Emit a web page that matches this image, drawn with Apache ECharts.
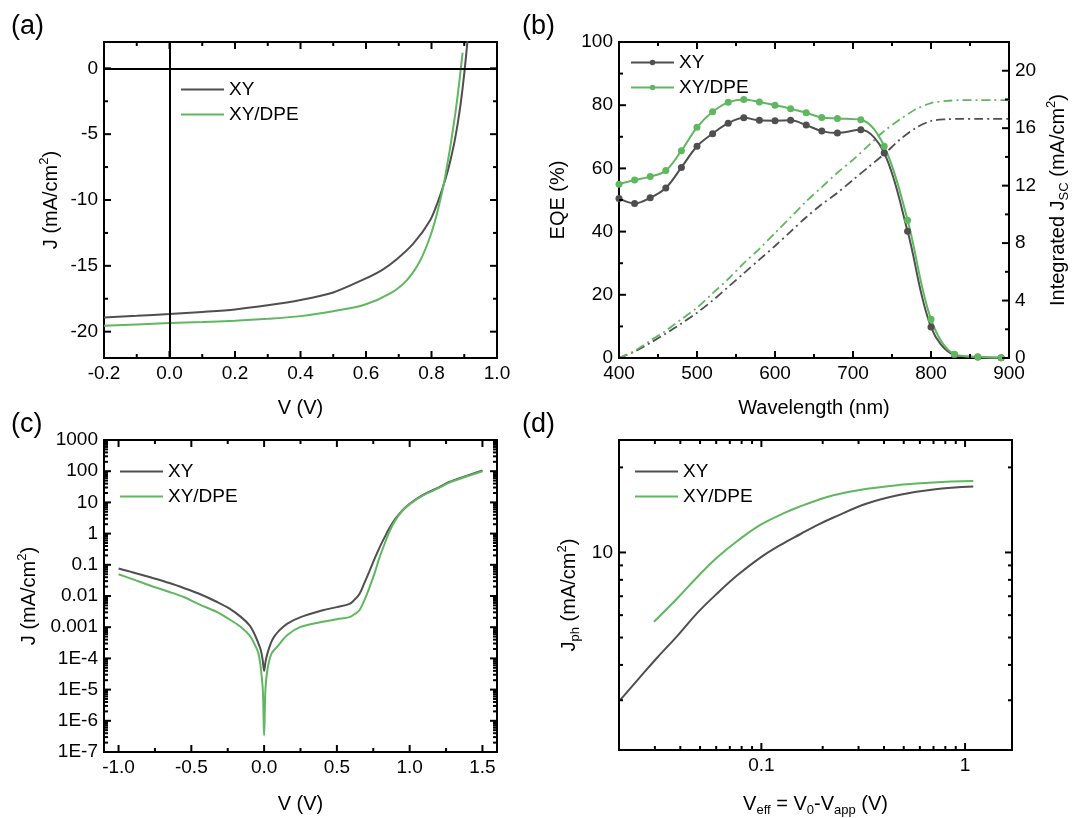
<!DOCTYPE html>
<html><head><meta charset="utf-8">
<script src="https://cdn.jsdelivr.net/npm/echarts@6/dist/echarts.min.js"></script>
<style>html,body{margin:0;padding:0;background:#fff}#c{width:1072px;height:818px}</style>
</head><body><div id="c"></div>
<script>
// ---------- (a) J-V ----------
const jvV_XY = [-0.2,-0.1,0,0.1,0.2,0.3,0.4,0.5,0.593,0.65,0.694,0.745,0.796,0.82,0.837,0.85,0.86,0.87,0.88,0.89,0.9,0.91];
const jvJ_XY = [-18.92,-18.80,-18.66,-18.50,-18.31,-18.00,-17.60,-17.02,-16.03,-15.30,-14.50,-13.30,-11.53,-10.10,-8.85,-7.75,-6.75,-5.60,-4.20,-2.50,-0.40,2.10];
const jvV_DPE = [-0.2,-0.1,0,0.1,0.2,0.3,0.4,0.5,0.593,0.674,0.725,0.766,0.796,0.816,0.837,0.852,0.86,0.872,0.88,0.888,0.895];
const jvJ_DPE = [-19.55,-19.45,-19.35,-19.27,-19.17,-19.02,-18.82,-18.45,-17.98,-17.09,-16.08,-14.57,-12.77,-11.10,-8.85,-6.75,-5.55,-3.55,-2.05,-0.35,1.20];
const aXMajor = [-0.2,0,0.2,0.4,0.6,0.8,1.0];
const aXMinor = [-0.1,0.1,0.3,0.5,0.7,0.9];
const aYMajor = [-20,-15,-10,-5,0];
const aYMinor = [-17.5,-12.5,-7.5,-2.5];

// ---------- (b) EQE ----------
const wl = [400,420,440,460,480,500,520,540,560,580,600,620,640,660,680,710,740,770,800,830,860,890];
const eqeXY  = [50.5,48.9,50.7,53.8,60.3,67.0,71.0,74.3,76.0,75.2,75.1,75.2,73.7,71.8,71.2,72.2,64.9,40.1,9.8,1.0,0.3,0.1];
const eqeDPE = [55.0,56.3,57.4,59.3,65.6,73.0,77.9,80.9,81.8,81.0,80.0,78.9,77.6,76.1,75.8,75.4,67.0,43.6,12.3,1.2,0.3,0.1];
const wlInt = [400,420,440,460,480,500,520,540,560,580,600,620,640,660,680,700,720,740,760,780,800,820,840,860,880,900];
const intXY  = [0,0.45,1.05,1.7,2.4,3.15,4.0,4.95,5.9,6.85,7.8,8.8,9.8,10.7,11.5,12.4,13.3,14.2,15.2,16.0,16.5,16.62,16.65,16.65,16.65,16.65];
const intDPE = [0,0.5,1.2,1.9,2.7,3.5,4.5,5.5,6.6,7.6,8.7,9.8,10.9,11.9,12.9,13.8,14.8,15.8,16.6,17.3,17.75,17.9,17.95,17.95,17.95,17.95];
const bXMajor = [400,500,600,700,800,900];
const bXMinor = [450,550,650,750,850];
const bYMajor = [0,20,40,60,80,100];
const bYMinor = [10,30,50,70,90];
const bY2Major = [0,4,8,12,16,20];
const bY2Minor = [2,6,10,14,18];

// ---------- (c) dark J-V (log) ----------
const dV_XY = [-1.0,-0.9,-0.776,-0.65,-0.548,-0.45,-0.319,-0.24,-0.16,-0.1,-0.068,-0.04,-0.023,-0.01,0,0.01,0.023,0.045,0.068,0.1,0.16,0.251,0.404,0.5,0.587,0.62,0.655,0.69,0.724,0.76,0.792,0.83,0.861,0.9,0.952,1.0,1.089,1.2,1.272,1.4,1.5];
const dJ_XY = [0.076,0.057,0.039,0.026,0.0178,0.012,0.0063,0.0040,0.00214,0.00115,6.3e-4,3.1e-4,1.86e-4,9e-5,4e-5,8e-5,1.45e-4,3e-4,4.9e-4,7.5e-4,0.0013,0.0021,0.0035,0.0044,0.0056,0.0075,0.0116,0.027,0.063,0.16,0.35,0.8,1.5,2.9,5.6,9,17,30,45,73,105];
const dV_DPE = [-1.0,-0.9,-0.776,-0.65,-0.548,-0.45,-0.319,-0.24,-0.16,-0.1,-0.068,-0.04,-0.027,-0.009,0,0.009,0.023,0.05,0.091,0.16,0.251,0.404,0.5,0.587,0.62,0.655,0.69,0.724,0.76,0.792,0.83,0.861,0.9,0.952,1.0,1.089,1.2,1.272,1.4,1.5];
const dJ_DPE = [0.050,0.034,0.021,0.0135,0.0091,0.0055,0.0030,0.0018,0.00102,5.5e-4,3.0e-4,1.5e-4,7e-5,1e-5,3.4e-7,1e-5,4.4e-5,1.4e-4,2.4e-4,5.6e-4,0.00102,0.0015,0.0018,0.0021,0.0026,0.0035,0.0075,0.019,0.055,0.166,0.5,1.17,2.6,5.6,8.8,16.5,29,43,70,100];
const cXMajor = [-1.0,-0.5,0,0.5,1.0,1.5];
const cXMinor = [-0.75,-0.25,0.25,0.75,1.25];
const cYTicks = [1e-7,1e-6,1e-5,1e-4,1e-3,1e-2,1e-1,1,10,100,1000];
const cYTickText = ['1E-7','1E-6','1E-5','1E-4','0.001','0.01','0.1','1','10','100','1000'];
const cYMinor = [];
for (let e = -7; e < 3; e++) for (let m = 2; m <= 9; m++) cYMinor.push(m * Math.pow(10, e));

// ---------- (d) Jph vs Veff ----------
const vEff_XY = [0.0203,0.0247,0.0303,0.0387,0.0485,0.0608,0.0762,0.0993,0.129,0.155,0.188,0.226,0.330,0.480,0.700,1.097];
const jph_XY  = [3.01,3.54,4.19,5.07,6.11,7.17,8.30,9.61,10.8,11.6,12.5,13.3,14.9,16.0,16.7,17.1];
const vEff_DPE = [0.0297,0.0387,0.0485,0.0608,0.0762,0.0993,0.129,0.155,0.188,0.226,0.330,0.480,0.700,1.097];
const jph_DPE  = [5.69,6.89,8.19,9.61,10.98,12.54,13.77,14.55,15.3,15.95,16.8,17.35,17.7,17.9];
const dXMajor = [0.1,1];
const dXTickText = ['0.1','1'];
const dXMinor = [0.03,0.04,0.05,0.06,0.07,0.08,0.09,0.2,0.3,0.4,0.5,0.6,0.7,0.8,0.9];
const dYMajor = [10];
const dYTickText = ['10'];
const dYMinor = [3,4,5,6,7,8,9,20];

// ---------- style ----------
const FONT = "'Liberation Sans', Arial, Helvetica, sans-serif";
const DARK = '#4f4f4f';
const GREEN = '#5fb760';
const MAJ = 7, MIN = 4, TW = 2;
const zip = (a, b) => a.map((v, i) => [v, b[i]]);
const logLookup = (vals, texts) => v => {
  for (let i = 0; i < vals.length; i++) if (Math.abs(Math.log10(v) - Math.log10(vals[i])) < 0.01) return texts[i];
  return '';
};
const nameStyle = {
  fontSize: 20, fontFamily: FONT, color: '#000', lineHeight: 26,
  rich: {
    sup: { fontSize: 13, fontFamily: FONT, color: '#000', verticalAlign: 'top', lineHeight: 14 },
    sub: { fontSize: 13, fontFamily: FONT, color: '#000', verticalAlign: 'bottom', lineHeight: 14 }
  }
};

const xAxes = [], yAxes = [];
function addAxis(list, grid, position, cfg) {
  const ax = {
    type: cfg.type || 'value', gridIndex: grid, position: position,
    min: cfg.min, max: cfg.max, splitLine: { show: false },
    minorTick: { show: false }, minorSplitLine: { show: false },
    axisLine: { show: false, onZero: false },
    axisTick: { show: false },
    axisLabel: { show: true, customValues: cfg.major, formatter: cfg.fmt,
      fontSize: 19, color: '#000', fontFamily: FONT, margin: 6 },
    name: cfg.name, nameLocation: 'middle', nameGap: cfg.nameGap, nameTextStyle: nameStyle
  };
  if (cfg.type === 'log') ax.logBase = 10;
  list.push(ax);
  return list.length - 1;
}

const AX = addAxis(xAxes, 0, 'bottom', { min: -0.2, max: 1.0, major: aXMajor, fmt: v => v.toFixed(1), name: 'V (V)', nameGap: 37 });
const AY = addAxis(yAxes, 0, 'left', { min: -22, max: 2, major: aYMajor, fmt: v => String(v), name: 'J (mA/cm{sup|2})', nameGap: 40 });
const BX = addAxis(xAxes, 1, 'bottom', { min: 400, max: 900, major: bXMajor, fmt: v => String(v), name: 'Wavelength (nm)', nameGap: 37 });
const BY = addAxis(yAxes, 1, 'left', { min: 0, max: 100, major: bYMajor, fmt: v => String(v), name: 'EQE (%)', nameGap: 48 });
const BY2 = addAxis(yAxes, 1, 'right', { min: 0, max: 22, major: bY2Major, fmt: v => String(v), name: 'Integrated J{sub|SC} (mA/cm{sup|2})', nameGap: 36 });
const CX = addAxis(xAxes, 2, 'bottom', { min: -1.1, max: 1.6, major: cXMajor, fmt: v => v.toFixed(1), name: 'V (V)', nameGap: 39 });
const CY = addAxis(yAxes, 2, 'left', { type: 'log', min: 1e-7, max: 1000, major: cYTicks, fmt: logLookup(cYTicks, cYTickText), name: 'J (mA/cm{sup|2})', nameGap: 62 });
const DX = addAxis(xAxes, 3, 'bottom', { type: 'log', min: 0.02, max: 1.7, major: dXMajor, fmt: logLookup(dXMajor, dXTickText), name: 'V{sub|eff} = V{sub|0}-V{sub|app} (V)', nameGap: 41 });
const DY = addAxis(yAxes, 3, 'left', { type: 'log', min: 2, max: 25, major: dYMajor, fmt: logLookup(dYMajor, dYTickText), name: 'J{sub|ph} (mA/cm{sup|2})', nameGap: 37 });

function line(name, color, xi, yi, data, extra) {
  return Object.assign({
    type: 'line', name: name, xAxisIndex: xi, yAxisIndex: yi, data: data,
    symbol: 'none', showSymbol: false, smooth: 0.3, clip: true,
    lineStyle: { color: color, width: 2 }, itemStyle: { color: color }, z: 3
  }, extra || {});
}

const series = [
  line('XY#a', DARK, AX, AY, zip(jvV_XY, jvJ_XY), {
    markLine: { silent: true, symbol: ['none', 'none'], label: { show: false }, animation: false,
      lineStyle: { color: '#000', width: 2, type: 'solid' }, emphasis: { disabled: true },
      data: [{ yAxis: 0 }, { xAxis: 0 }] }
  }),
  line('XY/DPE#a', GREEN, AX, AY, zip(jvV_DPE, jvJ_DPE)),
  line('XYint', DARK, BX, BY2, zip(wlInt, intXY), { lineStyle: { color: DARK, width: 1.8, type: [9, 4, 2, 4] } }),
  line('DPEint', GREEN, BX, BY2, zip(wlInt, intDPE), { lineStyle: { color: GREEN, width: 1.8, type: [9, 4, 2, 4] } }),
  line('XY#b', DARK, BX, BY, zip(wl, eqeXY), { symbol: 'circle', showSymbol: true, symbolSize: 7, smooth: 0.35 }),
  line('XY/DPE#b', GREEN, BX, BY, zip(wl, eqeDPE), { symbol: 'circle', showSymbol: true, symbolSize: 7, smooth: 0.35 }),
  line('XY#c', DARK, CX, CY, zip(dV_XY, dJ_XY), { smooth: 0.35 }),
  line('XY/DPE#c', GREEN, CX, CY, zip(dV_DPE, dJ_DPE), { smooth: 0.35 }),
  line('XY#d', DARK, DX, DY, zip(vEff_XY, jph_XY), { smooth: 0.4 }),
  line('XY/DPE#d', GREEN, DX, DY, zip(vEff_DPE, jph_DPE), { smooth: 0.4 })
];

function legend(tag, left, top, withMarker) {
  const l = {
    data: ['XY' + tag, 'XY/DPE' + tag], orient: 'vertical', left: left, top: top,
    padding: 0, itemWidth: 43, itemHeight: withMarker ? 7 : 2, itemGap: 6, selectedMode: false,
    formatter: n => n.split('#')[0],
    textStyle: { fontSize: 19, fontFamily: FONT, color: '#000' }
  };
  if (!withMarker) l.icon = 'rect';
  return l;
}

const panelLabel = (t, x, y) => ({
  type: 'text', left: x, top: y, silent: true,
  style: { text: t, fontSize: 27, fontFamily: FONT, fill: '#000' }
});
const labels = [panelLabel('(a)', 11, 13), panelLabel('(b)', 522, 13), panelLabel('(c)', 11, 411), panelLabel('(d)', 522, 411)];

const gridBox = (l, t) => ({ left: l, top: t, width: 393, height: 316, show: true, borderColor: '#000', borderWidth: 2, backgroundColor: 'transparent' });

const option = {
  animation: false,
  backgroundColor: '#fff',
  grid: [gridBox(104, 42), gridBox(619, 42), gridBox(104, 440), gridBox(619, 440)],
  xAxis: xAxes,
  yAxis: yAxes,
  legend: [legend('#a', 181, 80, false), legend('#b', 630, 53, true), legend('#c', 120, 462, false), legend('#d', 635, 462, false)],
  series: series
};

const chart = echarts.init(document.getElementById('c'), null, { renderer: 'canvas' });
chart.setOption(option);

// inward ticks on every side, placed through each axis's own scale (thin filled bars, top layer)
const tickEls = [];
function addTicks(xi, yi, xr, yr, xMaj, xMin, yMaj, yMin, sides) {
  const f = { xAxisIndex: xi, yAxisIndex: yi };
  const bar = (x, y, w, h) => tickEls.push({ type: 'rect', silent: true, z: 1000, zlevel: 1,
    shape: { x: x, y: y, width: w, height: h }, style: { fill: '#000', stroke: null } });
  const xs = (xMaj || []).map(v => [v, MAJ]).concat((xMin || []).map(v => [v, MIN]));
  const ys = (yMaj || []).map(v => [v, MAJ]).concat((yMin || []).map(v => [v, MIN]));
  xs.forEach(([v, len]) => {
    const b = chart.convertToPixel(f, [v, yr[0]]);
    const t = chart.convertToPixel(f, [v, yr[1]]);
    bar(b[0] - TW / 2, b[1] - len, TW, len);
    bar(t[0] - TW / 2, t[1], TW, len);
  });
  ys.forEach(([v, len]) => {
    if (sides.indexOf('left') >= 0) { const l = chart.convertToPixel(f, [xr[0], v]); bar(l[0], l[1] - TW / 2, len, TW); }
    if (sides.indexOf('right') >= 0) { const r = chart.convertToPixel(f, [xr[1], v]); bar(r[0] - len, r[1] - TW / 2, len, TW); }
  });
}
addTicks(AX, AY, [-0.2, 1.0], [-22, 2], aXMajor, aXMinor, aYMajor, aYMinor, ['left', 'right']);
addTicks(BX, BY, [400, 900], [0, 100], bXMajor, bXMinor, bYMajor, bYMinor, ['left']);
addTicks(BX, BY2, [400, 900], [0, 22], null, null, bY2Major, bY2Minor, ['right']);
addTicks(CX, CY, [-1.1, 1.6], [1e-7, 1000], cXMajor, cXMinor, cYTicks, cYMinor, ['left', 'right']);
addTicks(DX, DY, [0.02, 1.7], [2, 25], dXMajor, dXMinor, dYMajor, dYMinor, ['left', 'right']);
chart.setOption({ graphic: { elements: labels.concat(tickEls) } });
</script></body></html>
